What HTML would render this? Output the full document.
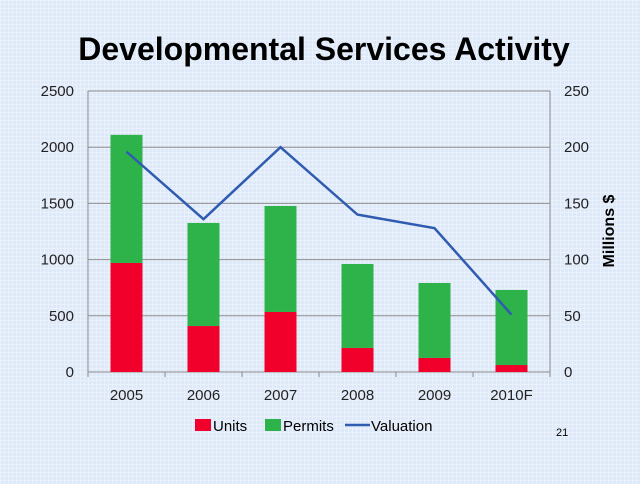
<!DOCTYPE html>
<html><head><meta charset="utf-8"><style>
body{margin:0;width:640px;height:479px;overflow:hidden;font-family:"Liberation Sans",sans-serif;
background-color:#dde8f8;
background-image:linear-gradient(#ebf1fb 1px,transparent 1px),linear-gradient(90deg,#ebf1fb 1px,transparent 1px);
background-size:4px 4px;}
</style></head><body>
<svg width="640" height="479" xmlns="http://www.w3.org/2000/svg" id="chart">
<text x="324" y="60" text-anchor="middle" font-size="32" font-weight="bold" fill="#000">Developmental Services Activity</text>
<g id="grid"></g><g id="bars"></g><g id="line"></g><g id="axes"></g>
<text transform="translate(614,231) rotate(-90)" text-anchor="middle" font-size="16" font-weight="bold">Millions $</text>
<g font-size="15">
<rect x="195" y="419" width="16" height="12" fill="#f0002a"/>
<text x="213" y="431">Units</text>
<rect x="265" y="419" width="16" height="12" fill="#2db34a"/>
<text x="283" y="431">Permits</text>
<line x1="345" y1="425" x2="370" y2="425" stroke="#2f5cb0" stroke-width="2.5"/>
<text x="371" y="431">Valuation</text>
</g>
<text x="556" y="436" font-size="11">21</text>
</svg>
<script>
const categories=["2005","2006","2007","2008","2009","2010F"];
const units=[970,409,534,214,125,62];
const permits=[1140,917,943,747,667,668];
const valuation=[196,136,200,140,128,51];
const leftTicks=[0,500,1000,1500,2000,2500];
const rightTicks=[0,50,100,150,200,250];
const NS="http://www.w3.org/2000/svg";
const L=88,R=550,T=91,B=372;
const y1=v=>B-v/2500*(B-T);
const y2=v=>B-v/250*(B-T);
const bw=(R-L)/categories.length;
const xc=i=>L+bw*(i+0.5);
function mk(g,tag,attrs){const e=document.createElementNS(NS,tag);for(const k in attrs)e.setAttribute(k,attrs[k]);document.getElementById(g).appendChild(e);return e;}
leftTicks.forEach((t,i)=>{
 const l=mk('grid','line',{x1:L,x2:R,y1:y1(t),y2:y1(t),stroke:'#8c8c8c','stroke-width':1});
 
 
 const tx=mk('axes','text',{x:L-14,y:y1(t)+5,'text-anchor':'end','font-size':15,fill:'#222'});tx.textContent=t;
 
 
});
rightTicks.forEach(t=>{
 const tx=mk('axes','text',{x:R+14,y:y2(t)+5,'font-size':15,fill:'#222'});tx.textContent=t;
 
 
});
mk('axes','line',{x1:L,x2:L,y1:T,y2:B,stroke:'#8c8c8c'});
mk('axes','line',{x1:R,x2:R,y1:T,y2:B,stroke:'#8c8c8c'});
for(let i=0;i<=categories.length;i++){mk('axes','line',{x1:L+bw*i,x2:L+bw*i,y1:B,y2:B+5,stroke:'#8c8c8c'});}
categories.forEach((c,i)=>{
 const tx=mk('axes','text',{x:xc(i),y:B+28,'text-anchor':'middle','font-size':15,fill:'#222'});tx.textContent=c;
 
 
 const w=32;
 const r1=mk('bars','rect',{x:xc(i)-w/2,y:y1(units[i]),width:w,height:B-y1(units[i]),fill:'#f0002a'});
 
 
 const top=units[i]+permits[i];
 const r2=mk('bars','rect',{x:xc(i)-w/2,y:y1(top),width:w,height:y1(units[i])-y1(top),fill:'#2db34a'});
 
 
});
const pl=mk('line','polyline',{points:valuation.map((v,i)=>xc(i)+','+y2(v)).join(' '),fill:'none',stroke:'#2f5cb0','stroke-width':2.5});


</script>
</body></html>
